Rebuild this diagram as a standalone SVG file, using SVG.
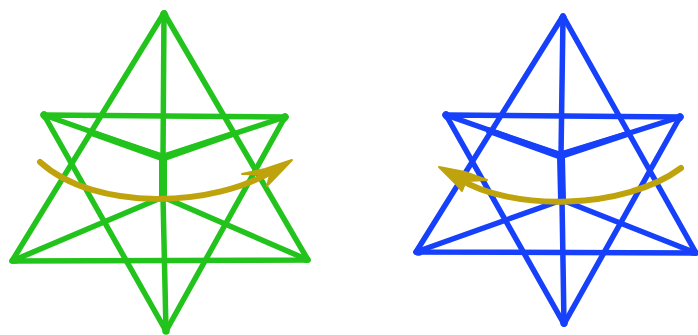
<svg xmlns="http://www.w3.org/2000/svg" width="698" height="335" viewBox="0 0 698 335">
<style>
.g{stroke:#22c31a}.b{stroke:#1440fa}
.gf{fill:#22c31a}.bf{fill:#1440fa}
.e{fill:none;stroke-width:5.500;stroke-linecap:round;stroke-linejoin:round}
.m{fill:none;stroke-width:8;stroke-linecap:round;stroke-linejoin:round}
.k{fill:none;stroke-width:7.500;stroke-linecap:round}
.a{fill:none;stroke:#bfa30f;stroke-width:6;stroke-linecap:round;stroke-linejoin:round}
.h{fill:#bfa30f;stroke:#bfa30f;stroke-width:2;stroke-linejoin:round}
</style>
<defs><filter id="soft" x="-5%" y="-5%" width="110%" height="110%"><feGaussianBlur stdDeviation="0.600"/></filter></defs>
<rect width="698" height="335" fill="#fff"/>
<g filter="url(#soft)">
<g id="star-green">
<g class="e g">
<path d="M164 13L12 261L308 260Z"/>
<path d="M44 115L285 117L166 331Z"/>
<path d="M164 13L163 157M163 197L166 331"/>
<path d="M44 115L163 157L285 117"/>
<path d="M12 261L163 197L308 260"/>
</g>
<path class="gf" d="M90 129L163 153.500L235 130L236 136L165 161L161 161L88 135Z"/>
<path class="m g" d="M163 158L163 197"/>
<path class="k g" d="M164 14L164.500 15M166 330L166 331M14 260L15 260M306 259L305 258M44 115L45 116M285 117L284 118"/>
</g>
<g id="star-blue">
<g class="e b">
<path d="M563 16L416 252L696 253Z"/>
<path d="M446 115L680 117L564 324Z"/>
<path d="M563 16L561 155M562 200L564 324"/>
<path d="M446 115L560 155L680 117"/>
<path d="M416 252L562 200L696 253"/>
</g>
<path class="bf" d="M488 127L560 151.500L630 130L631 136L562 159L558 159L486 133Z"/>
<path class="m b" d="M561 157L562 200"/>
<path class="k b" d="M563 18L563 19M564 322L564 323M418 252L419 252M446 115L447 116M680 117L679 118M694 252L693 252"/>
</g>
<g id="connectors">
<path class="a" d="M40 162C95 212 215 208 276 169"/>
<path class="h" d="M292 160L267 186L270 175L242 174L265 169Z"/>
<path class="a" d="M681 168C625 210 510 212 458 178"/>
<path class="h" d="M439 167L465 172L487 180L466 181L462 191L456 184Z"/>
</g>
</g>
</svg>
